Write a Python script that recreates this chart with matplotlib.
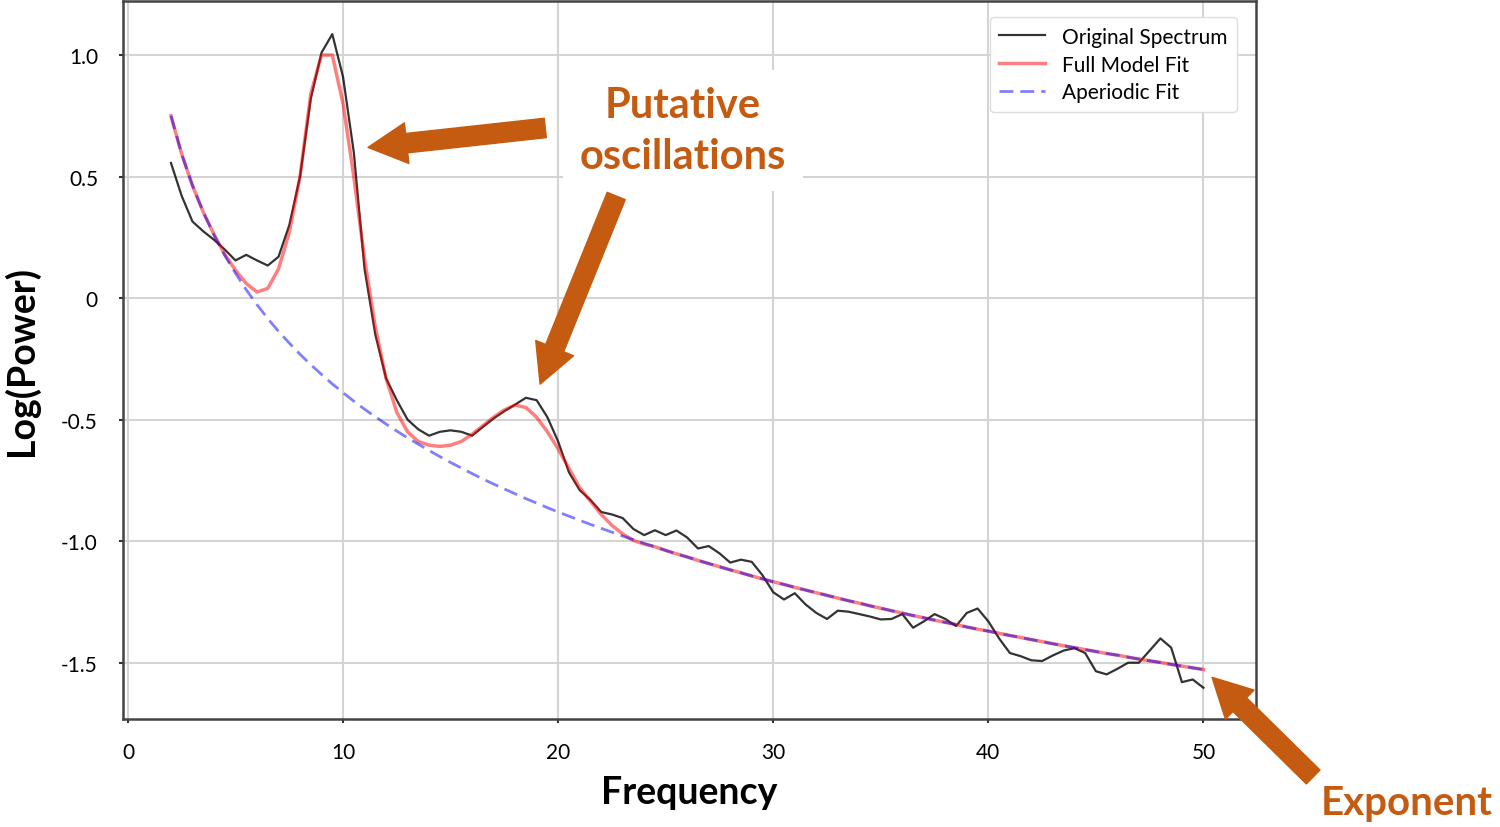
import numpy as np
import matplotlib
matplotlib.use("Agg")
import matplotlib.pyplot as plt

plt.rcParams['font.family'] = ['Lato', 'DejaVu Sans']

# Frequency grid of the power spectrum (Hz)
freqs = np.arange(2, 50.5, 0.5)

# Original spectrum, log10 power
spectrum = [
    0.556, 0.42, 0.315, 0.275, 0.24, 0.20, 0.155, 0.178, 0.155, 0.134,
    0.17, 0.30, 0.50, 0.82, 1.01, 1.086, 0.91, 0.60, 0.12, -0.15,
    -0.33, -0.42, -0.50, -0.54, -0.566, -0.55, -0.544, -0.55, -0.566, -0.53,
    -0.495, -0.465, -0.438, -0.41, -0.42, -0.49, -0.59, -0.716, -0.79, -0.83,
    -0.88, -0.89, -0.905, -0.95, -0.975, -0.955, -0.975, -0.956, -0.985, -1.03,
    -1.02, -1.05, -1.088, -1.076, -1.085, -1.14, -1.21, -1.24, -1.214, -1.26,
    -1.295, -1.32, -1.286, -1.29, -1.30, -1.31, -1.322, -1.32, -1.30, -1.356,
    -1.33, -1.30, -1.32, -1.349, -1.295, -1.277, -1.33, -1.40, -1.46, -1.473,
    -1.49, -1.493, -1.47, -1.45, -1.44, -1.46, -1.535, -1.548, -1.525, -1.50,
    -1.50, -1.45, -1.40, -1.438, -1.58, -1.569, -1.603,
]

# Aperiodic fit
aperiodic = [
    0.750, 0.592, 0.463, 0.354, 0.260, 0.176, 0.102, 0.034, -0.027, -0.084,
    -0.137, -0.185, -0.231, -0.274, -0.314, -0.353, -0.389, -0.424, -0.457, -0.488,
    -0.518, -0.547, -0.575, -0.601, -0.627, -0.652, -0.676, -0.699, -0.722, -0.744,
    -0.765, -0.785, -0.805, -0.825, -0.843, -0.862, -0.880, -0.897, -0.914, -0.931,
    -0.947, -0.963, -0.979, -0.994, -1.009, -1.023, -1.038, -1.052, -1.065, -1.079,
    -1.092, -1.105, -1.118, -1.130, -1.143, -1.155, -1.167, -1.178, -1.190, -1.201,
    -1.212, -1.223, -1.234, -1.245, -1.255, -1.266, -1.276, -1.286, -1.296, -1.306,
    -1.315, -1.325, -1.334, -1.343, -1.353, -1.362, -1.370, -1.379, -1.388, -1.396,
    -1.405, -1.413, -1.422, -1.430, -1.438, -1.446, -1.454, -1.462, -1.469, -1.477,
    -1.485, -1.492, -1.499, -1.507, -1.514, -1.521, -1.528,
]

# Full model fit (aperiodic + peaks), same values as aperiodic above 24 Hz
full_model = [
    0.750, 0.592, 0.463, 0.354, 0.262, 0.180, 0.115, 0.06, 0.025, 0.04,
    0.12, 0.27, 0.50, 0.84, 1.00, 1.00, 0.80, 0.50, 0.16, -0.12,
    -0.33, -0.47, -0.55, -0.59, -0.605, -0.61, -0.605, -0.59, -0.56, -0.525,
    -0.49, -0.46, -0.44, -0.45, -0.49, -0.55, -0.62, -0.70, -0.78, -0.835,
    -0.89, -0.935, -0.97, -0.997, -1.012, -1.023, -1.038, -1.052, -1.065, -1.079,
    -1.092, -1.105, -1.118, -1.130, -1.143, -1.155, -1.167, -1.178, -1.190, -1.201,
    -1.212, -1.223, -1.234, -1.245, -1.255, -1.266, -1.276, -1.286, -1.296, -1.306,
    -1.315, -1.325, -1.334, -1.343, -1.353, -1.362, -1.370, -1.379, -1.388, -1.396,
    -1.405, -1.413, -1.422, -1.430, -1.438, -1.446, -1.454, -1.462, -1.469, -1.477,
    -1.485, -1.492, -1.499, -1.507, -1.514, -1.521, -1.528,
]

x_ticks = [0, 10, 20, 30, 40, 50]
y_ticks = [1.0, 0.5, 0, -0.5, -1.0, -1.5]
y_tick_labels = ['1.0', '0.5', '0', '-0.5', '-1.0', '-1.5']

orange = '#C55A11'

fig = plt.figure(figsize=(15, 8.28), dpi=100)
ax = fig.add_axes([0.082, 0.130, 0.755, 0.8675])

ax.plot(freqs, spectrum, color='black', alpha=0.8, lw=1.6, label='Original Spectrum')
ax.plot(freqs, full_model, color='red', alpha=0.5, lw=2.5, label='Full Model Fit')
ax.plot(freqs, aperiodic, color='blue', alpha=0.5, lw=2.0, ls=(0, (5, 2.5)), label='Aperiodic Fit')

ax.set_xlim(-0.23, 52.42)
ax.set_ylim(-1.733, 1.222)
ax.set_xticks(x_ticks)
ax.set_yticks(y_ticks)
ax.set_yticklabels(y_tick_labels)
ax.tick_params(axis='both', labelsize=15, length=3, width=1.5, color='#333333')
ax.tick_params(axis='x', pad=13)
ax.tick_params(axis='y', pad=15)
ax.grid(True, color='#d4d4d4', lw=1.5)
ax.set_axisbelow(True)
for sp in ax.spines.values():
    sp.set_color('#444444')
    sp.set_linewidth(1.8)

ax.set_xlabel('Frequency', fontsize=27, fontweight='bold', labelpad=10)
ax.set_ylabel('Log(Power)', fontsize=27, fontweight='bold', labelpad=16)

leg = ax.legend(loc='upper right', fontsize=15, handlelength=2.2, handletextpad=0.8,
                labelspacing=0.38, borderpad=0.45, framealpha=1, edgecolor='#dddddd',
                bbox_to_anchor=(0.9925, 0.992))

# Annotations
ax.text(25.8, 0.69, 'Putative\noscillations', color=orange, fontsize=30, fontweight='bold',
        ha='center', va='center', linespacing=1.4,
        bbox=dict(facecolor='white', edgecolor='none', pad=12))

arrow_a = 'simple,head_length=2.0,head_width=2.1,tail_width=1.0'
ax.annotate('', xy=(11.16, 0.62), xytext=(19.4, 0.70),
            arrowprops=dict(arrowstyle=arrow_a, mutation_scale=14, color=orange,
                            shrinkA=0, shrinkB=0))
ax.annotate('', xy=(19.16, -0.354), xytext=(22.7, 0.42),
            arrowprops=dict(arrowstyle=arrow_a, mutation_scale=14, color=orange,
                            shrinkA=0, shrinkB=0))
ax.annotate('', xy=(50.4, -1.56), xytext=(55.1, -1.97), annotation_clip=False,
            arrowprops=dict(arrowstyle=arrow_a, mutation_scale=14, color=orange,
                            shrinkA=0, shrinkB=0))
fig.text(0.938, 0.03, 'Exponent', color=orange, fontsize=29, fontweight='bold',
         ha='center', va='center')

fig.savefig('out.png', dpi=100)
